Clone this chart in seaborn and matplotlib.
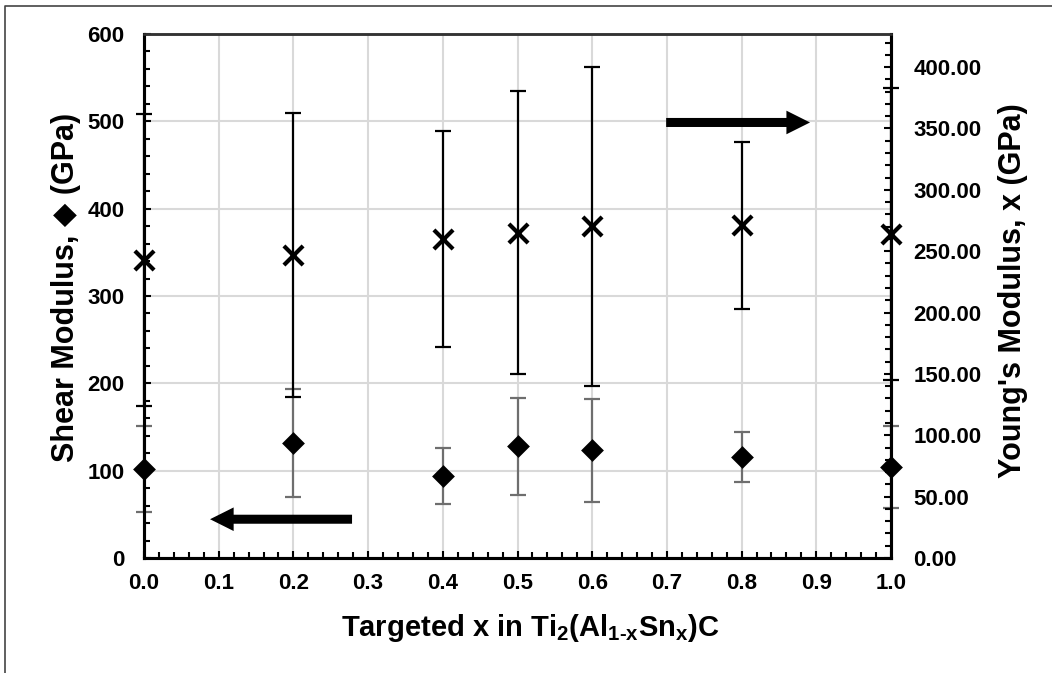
import matplotlib
matplotlib.use("Agg")
import matplotlib.pyplot as plt
from matplotlib.lines import Line2D
from matplotlib.ticker import MultipleLocator, FormatStrFormatter
import seaborn as sns
import pandas as pd

# Targeted Sn fraction x in Ti2(Al1-xSnx)C
x_sn = [0.0, 0.2, 0.4, 0.5, 0.6, 0.8, 1.0]
# Shear modulus (GPa) and its uncertainty
shear = [101.7, 131.6, 94.4, 127.7, 123.1, 115.5, 104.7]
shear_err = [49.0, 62.0, 32.0, 55.6, 58.9, 29.0, 47.0]
# Young's modulus (GPa) and its uncertainty
young = [242.8, 246.8, 259.6, 265.0, 270.5, 271.3, 264.0]
young_err = [119.0, 115.6, 88.0, 115.4, 130.0, 68.0, 119.0]

x_ticks = [round(0.1 * i, 1) for i in range(11)]

df = pd.DataFrame({"x": x_sn, "shear": shear, "shear_err": shear_err,
                   "young": young, "young_err": young_err})

sns.set_style("white")
plt.rcParams["font.family"] = ["Liberation Sans", "DejaVu Sans"]
plt.rcParams["font.weight"] = "bold"
plt.rcParams["mathtext.fontset"] = "custom"
plt.rcParams["mathtext.rm"] = "Liberation Sans:bold"
plt.rcParams["mathtext.bf"] = "Liberation Sans:bold"
plt.rcParams["mathtext.it"] = "Liberation Sans:bold"
plt.rcParams["mathtext.default"] = "bf"

fig = plt.figure(figsize=(10.52, 6.73), dpi=100)
ax = fig.add_axes([144 / 1052, 1 - 558 / 673, (891 - 144) / 1052, (558 - 34) / 673])
ax2 = ax.twinx()

grid_c = "#d9d9d9"
ax.set_xlim(0, 1.0)
ax.set_ylim(0, 600)
ax2.set_ylim(0, 427)

ax.set_xticks(x_ticks)
ax.xaxis.set_minor_locator(MultipleLocator(0.02))
ax.yaxis.set_major_locator(MultipleLocator(100))
ax.yaxis.set_minor_locator(MultipleLocator(20))
ax2.yaxis.set_major_locator(MultipleLocator(50))
ax2.yaxis.set_minor_locator(MultipleLocator(10))
ax.xaxis.set_major_formatter(FormatStrFormatter("%.1f"))
ax2.yaxis.set_major_formatter(FormatStrFormatter("%.2f"))

ax.grid(True, which="major", color=grid_c, lw=1.5, zorder=0)
ax.set_axisbelow(True)

# Shear modulus: grey error bars with black diamonds
ax.errorbar(df["x"], df["shear"], yerr=df["shear_err"], fmt="none",
            ecolor="#6e6e6e", elinewidth=1.6, capsize=5.5, capthick=1.6,
            clip_on=False, zorder=5)
sns.scatterplot(data=df, x="x", y="shear", ax=ax, marker="D", s=135,
                color="black", edgecolor="black", linewidth=0, clip_on=False,
                zorder=6, legend=False)

# Young's modulus: black error bars with crosses
ax2.errorbar(df["x"], df["young"], yerr=df["young_err"], fmt="none",
             ecolor="black", elinewidth=1.6, capsize=5.5, capthick=1.6,
             clip_on=False, zorder=5)
sns.scatterplot(data=df, x="x", y="young", ax=ax2, marker="x", s=190,
                color="black", linewidth=3.0, clip_on=False, zorder=6,
                legend=False)

tick_size = 16
for a in (ax, ax2):
    a.tick_params(axis="both", which="both", direction="in", color="black",
                  width=1.5, labelsize=tick_size, labelcolor="black")
    a.tick_params(which="major", length=5)
    a.tick_params(which="minor", length=4)
ax.tick_params(axis="y", which="both", left=True, right=False, pad=14)
ax.tick_params(axis="x", which="both", bottom=True, top=False, pad=11)
ax2.tick_params(axis="y", which="both", right=True, left=False, pad=16)
for lab in ax.get_xticklabels() + ax.get_yticklabels() + ax2.get_yticklabels():
    lab.set_fontweight("bold")

for a in (ax, ax2):
    for side in ("left", "right", "bottom"):
        a.spines[side].set_visible(True)
        a.spines[side].set_color("black")
        a.spines[side].set_linewidth(2.2)
    a.spines["top"].set_visible(True)
    a.spines["top"].set_color("#333333")
    a.spines["top"].set_linewidth(1.8)
ax2.grid(False)
ax2.patch.set_visible(False)

ax.set_xlabel(r"Targeted x in Ti$_{2}$(Al$_{1\text{-}x}$Sn$_{x}$)C",
              fontsize=21, fontweight="bold", color="black")
ax.set_ylabel("Shear Modulus, \u25c6 (GPa)", fontsize=22, fontweight="bold",
              color="black")
ax2.set_ylabel("Young's Modulus, x (GPa)", fontsize=22, fontweight="bold",
               color="black", rotation=90)
ax.xaxis.set_label_coords(0.517, -0.103)
ax.yaxis.set_label_coords(-0.084, 0.517)
ax2.yaxis.set_label_coords(1.143, 0.51)
ax2.yaxis.label.set_rotation(90)

# Direction arrows pointing toward each quantity's axis
arrow_style = "simple,head_length=17,head_width=17,tail_width=6.5"
ax.annotate("", xy=(0.0884, 44.4), xytext=(0.2785, 44.4),
            arrowprops=dict(arrowstyle=arrow_style, mutation_scale=1,
                            fc="black", ec="black", lw=0, shrinkA=0, shrinkB=0))
ax.annotate("", xy=(0.8916, 498.7), xytext=(0.699, 498.7),
            arrowprops=dict(arrowstyle=arrow_style, mutation_scale=1,
                            fc="black", ec="black", lw=0, shrinkA=0, shrinkB=0))

# Outer chart frame (left and top edges)
fx = 4.5 / 1052
fy = 1 - 5.5 / 673
fig.add_artist(Line2D([fx, fx, 1.0], [0.0, fy, fy], transform=fig.transFigure,
                      color="#444444", lw=1.2))

fig.savefig("out.png", dpi=100, facecolor="white")
